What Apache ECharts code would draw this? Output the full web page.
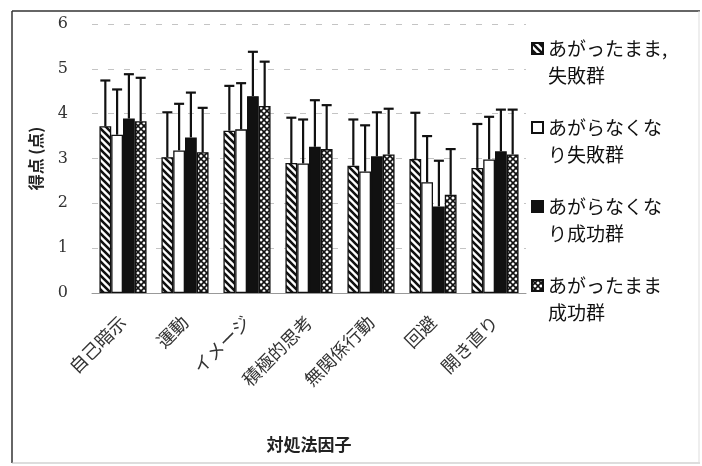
<!DOCTYPE html>
<html>
<head>
<meta charset="utf-8">
<script src="https://cdn.jsdelivr.net/npm/echarts@6/dist/echarts.min.js"></script>
<style>
  html, body { margin: 0; padding: 0; background: #fff; }
  #chart { width: 702px; height: 466px; }
</style>
</head>
<body>
<div id="chart"></div>
<script>
// 対処法因子ごとの平均得点と上側SD
const categories = ['自己暗示', '運動', 'イメージ', '積極的思考', '無関係行動', '回避', '開き直り'];
const groupNames = ['あがったまま,\n失敗群', 'あがらなくな\nり失敗群', 'あがらなくな\nり成功群', 'あがったまま\n成功群'];

const meanFailStay   = [3.72, 3.03, 3.62, 2.90, 2.84, 2.99, 2.79];
const meanFailCalm   = [3.53, 3.18, 3.65, 2.89, 2.71, 2.47, 2.98];
const meanSuccCalm   = [3.89, 3.47, 4.39, 3.26, 3.05, 1.93, 3.16];
const meanSuccStay   = [3.83, 3.14, 4.17, 3.21, 3.09, 2.19, 3.09];

const upperFailStay  = [4.74, 4.03, 4.62, 3.91, 3.87, 4.02, 3.77];
const upperFailCalm  = [4.54, 4.22, 4.68, 3.87, 3.74, 3.50, 3.93];
const upperSuccCalm  = [4.88, 4.47, 5.38, 4.30, 4.03, 2.95, 4.09];
const upperSuccStay  = [4.80, 4.13, 5.16, 4.19, 4.11, 3.21, 4.09];

const yTicks = [0, 1, 2, 3, 4, 5, 6];

const means = [meanFailStay, meanFailCalm, meanSuccCalm, meanSuccStay];
const uppers = [upperFailStay, upperFailCalm, upperSuccCalm, upperSuccStay];

// 斜線・格子のパターン
function hatchPattern() {
  const c = document.createElement('canvas');
  c.width = 7; c.height = 7;
  const g = c.getContext('2d');
  g.fillStyle = '#fff';
  g.fillRect(0, 0, 7, 7);
  g.strokeStyle = '#111';
  g.lineWidth = 2.6;
  g.beginPath();
  g.moveTo(-2, -2); g.lineTo(9, 9);
  g.moveTo(-9, -2); g.lineTo(2, 9);
  g.moveTo(5, -2); g.lineTo(16, 9);
  g.stroke();
  return c;
}
function crossPattern() {
  const c = document.createElement('canvas');
  c.width = 6; c.height = 6;
  const g = c.getContext('2d');
  g.fillStyle = '#fff';
  g.fillRect(0, 0, 6, 6);
  g.strokeStyle = '#111';
  g.lineWidth = 1.6;
  g.beginPath();
  g.moveTo(0, 0); g.lineTo(6, 6);
  g.moveTo(6, 0); g.lineTo(0, 6);
  g.stroke();
  return c;
}

const fills = [
  { image: hatchPattern(), repeat: 'repeat' },
  '#fff',
  '#111',
  { image: crossPattern(), repeat: 'repeat' }
];

const GAP = 0.24;

const barSeries = groupNames.map((name, k) => ({
  name: name,
  type: 'bar',
  data: means[k],
  barGap: '0%',
  barCategoryGap: (GAP * 100) + '%',
  itemStyle: { color: fills[k], borderColor: '#111', borderWidth: 1.3 },
  emphasis: { disabled: true }
}));

const errSeries = groupNames.map((name, k) => ({
  type: 'custom',
  z: 5,
  silent: true,
  data: categories.map((c, i) => [i, means[k][i], uppers[k][i]]),
  renderItem: function (params, api) {
    const idx = api.value(0);
    const band = api.size([1, 0])[0];
    const bw = band * (1 - GAP) / 4;
    const cx = api.coord([idx, 0])[0] - band * (1 - GAP) / 2 + bw * (k + 0.5);
    const y0 = api.coord([idx, api.value(1)])[1];
    const y1 = api.coord([idx, api.value(2)])[1];
    const style = { stroke: '#111', lineWidth: 2.2 };
    return {
      type: 'group',
      children: [
        { type: 'line', shape: { x1: cx, y1: y0, x2: cx, y2: y1 }, style: style },
        { type: 'line', shape: { x1: cx - 5, y1: y1, x2: cx + 5, y2: y1 }, style: style }
      ]
    };
  }
}));

const chart = echarts.init(document.getElementById('chart'));
chart.setOption({
  animation: false,
  backgroundColor: '#fff',
  grid: { left: 92, right: 176, top: 24, bottom: 173 },
  legend: {
    orient: 'vertical',
    left: 526,
    top: 3,
    itemGap: -2,
    itemWidth: 11,
    itemHeight: 11,
    icon: 'rect',
    selectedMode: false,
    data: groupNames,
    // 空行を先頭に入れてアイコンを1行目の高さに揃える
    formatter: function (name) { return ' \n' + name; },
    textStyle: {
      fontFamily: 'Noto Sans CJK JP',
      fontSize: 19,
      color: '#111',
      lineHeight: 27
    }
  },
  xAxis: {
    type: 'category',
    data: categories,
    name: '対処法因子',
    nameLocation: 'middle',
    nameGap: 143,
    nameTextStyle: { fontFamily: 'Noto Sans CJK JP', fontSize: 17, fontWeight: 'bold', color: '#222' },
    axisLine: { lineStyle: { color: '#999', width: 1 } },
    axisTick: { show: false },
    axisLabel: {
      rotate: 45,
      margin: 26,
      interval: 0,
      fontFamily: 'Noto Sans CJK JP',
      fontSize: 18,
      color: '#333'
    }
  },
  yAxis: {
    type: 'value',
    min: 0,
    max: 6,
    interval: 1,
    name: '得点 (点)',
    nameLocation: 'middle',
    nameRotate: 90,
    nameGap: 48,
    nameTextStyle: { fontFamily: 'Noto Sans CJK JP', fontSize: 16, fontWeight: 'bold', color: '#222' },
    axisLine: { show: false },
    axisTick: { show: false },
    axisLabel: {
      margin: 24,
      fontFamily: 'DejaVu Serif',
      fontSize: 16,
      color: '#333',
      formatter: function (v) { return yTicks.indexOf(v) >= 0 ? String(v) : ''; }
    },
    splitLine: { lineStyle: { color: '#c4c4c4', type: [6, 10], width: 1 } }
  },
  graphic: [
    { type: 'line', shape: { x1: 12, y1: 11, x2: 700, y2: 11 }, style: { stroke: '#333', lineWidth: 1.5 } },
    { type: 'line', shape: { x1: 12, y1: 11, x2: 12, y2: 463 }, style: { stroke: '#333', lineWidth: 1.5 } },
    { type: 'line', shape: { x1: 12, y1: 463, x2: 700, y2: 463 }, style: { stroke: '#bbb', lineWidth: 1 } },
    { type: 'line', shape: { x1: 699, y1: 11, x2: 699, y2: 463 }, style: { stroke: '#ddd', lineWidth: 1 } }
  ],
  series: barSeries.concat(errSeries)
});
</script>
</body>
</html>
